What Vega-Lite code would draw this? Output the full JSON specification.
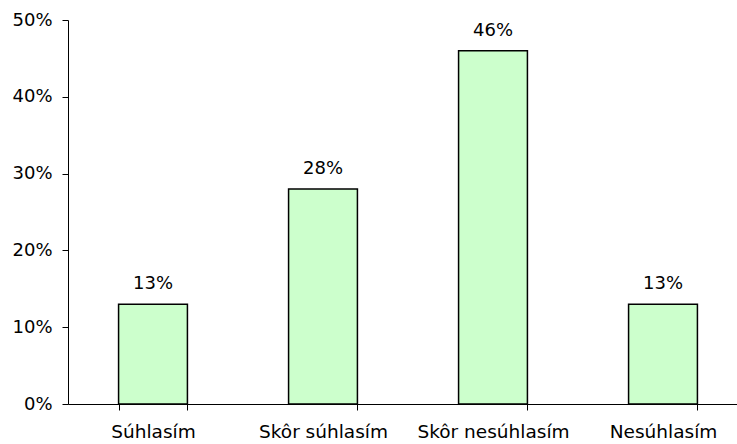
{
  "$schema": "https://vega.github.io/schema/vega-lite/v6.json",
  "width": 680,
  "height": 384,
  "autosize": "none",
  "padding": {"left": 68, "top": 20, "right": 0, "bottom": 40},
  "background": "white",
  "config": {
    "view": {"stroke": null},
    "font": "DejaVu Sans",
    "axis": {
      "domainColor": "#000000",
      "domainWidth": 1,
      "tickColor": "#000000",
      "tickWidth": 1,
      "tickSize": 6,
      "labelColor": "#000000",
      "labelFont": "DejaVu Sans",
      "labelFontSize": 18,
      "grid": false,
      "title": null
    }
  },
  "data": {
    "values": [
      {"odpoved": "Súhlasím", "podiel": 0.13},
      {"odpoved": "Skôr súhlasím", "podiel": 0.28},
      {"odpoved": "Skôr nesúhlasím", "podiel": 0.46},
      {"odpoved": "Nesúhlasím", "podiel": 0.13}
    ]
  },
  "encoding": {
    "x": {
      "field": "odpoved",
      "type": "nominal",
      "sort": null,
      "scale": {"paddingInner": 0.595, "paddingOuter": 0.2975},
      "axis": {"labelAngle": 0, "labelPadding": 27, "tickBand": "extent", "labelBaseline": "alphabetic", "labelFontSize": 18.5}
    },
    "y": {
      "field": "podiel",
      "type": "quantitative",
      "scale": {"domain": [0, 0.5], "nice": false},
      "axis": {"format": ".0%", "values": [0, 0.1, 0.2, 0.3, 0.4, 0.5], "labelPadding": 10}
    }
  },
  "layer": [
    {
      "mark": {"type": "bar", "fill": "#CCFFCC", "stroke": "#000000", "strokeWidth": 1.5}
    },
    {
      "mark": {"type": "text", "baseline": "alphabetic", "dy": -15, "fontSize": 18, "font": "DejaVu Sans", "color": "#000000"},
      "encoding": {"text": {"field": "podiel", "type": "quantitative", "format": ".0%"}}
    }
  ]
}
